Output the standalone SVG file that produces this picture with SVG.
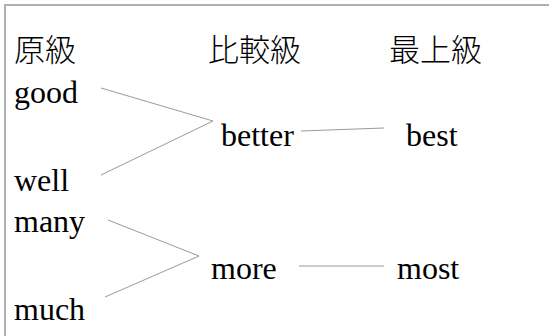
<svg xmlns="http://www.w3.org/2000/svg" width="549" height="336" viewBox="0 0 549 336">
<style>
.frame{stroke:#b0b0b0;stroke-width:2;fill:none}
.conn{stroke:#9a9a9a;stroke-width:1}
</style>
<rect width="549" height="336" fill="#fff"/>
<path class="frame" d="M5 336V5H549"/>
<g id="good"><text lang="en" font-family="Times New Roman" font-size="32" x="14" y="103">good</text></g>
<g id="well"><text lang="en" font-family="Times New Roman" font-size="32" x="14" y="191">well</text></g>
<g id="many"><text lang="en" font-family="Times New Roman" font-size="32" x="14" y="232">many</text></g>
<g id="much"><text lang="en" font-family="Times New Roman" font-size="32" x="14" y="320">much</text></g>
<g id="better"><text lang="en" font-family="Times New Roman" font-size="32" x="221" y="146">better</text></g>
<g id="best"><text lang="en" font-family="Times New Roman" font-size="32" x="406" y="146">best</text></g>
<g id="more"><text lang="en" font-family="Times New Roman" font-size="32" x="211" y="279">more</text></g>
<g id="most"><text lang="en" font-family="Times New Roman" font-size="32" x="397" y="279">most</text></g>
<g id="h1"><text lang="ja" font-family="Noto Sans CJK JP" font-weight="300" font-size="31" x="14" y="61">原級</text></g>
<g id="h2"><text lang="ja" font-family="Noto Sans CJK JP" font-weight="300" font-size="31" x="208" y="61">比較級</text></g>
<g id="h3"><text lang="ja" font-family="Noto Sans CJK JP" font-weight="300" font-size="31" x="389" y="61">最上級</text></g>
<g id="connectors" class="conn">
<line x1="101" y1="88" x2="213" y2="121"/>
<line x1="101" y1="175" x2="213" y2="121"/>
<line x1="301" y1="131" x2="384" y2="128"/>
<line x1="108" y1="220" x2="199" y2="256"/>
<line x1="105" y1="297" x2="199" y2="256"/>
<line x1="299" y1="266" x2="384" y2="266"/>
</g>
</svg>
